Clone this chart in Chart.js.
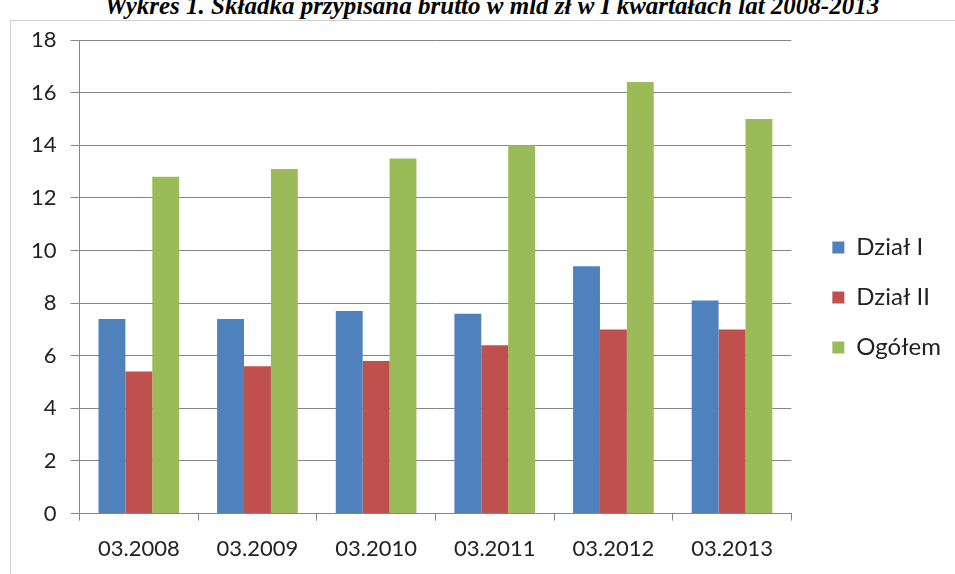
<!DOCTYPE html>
<html lang="pl">
<head>
    <meta charset="UTF-8">
    <title>Wykres 1</title>
    <script src="https://cdn.jsdelivr.net/npm/chart.js"></script>
    <style>
        body {
            margin: 0;
            background-color: #fff;
            width: 955px;
            height: 574px;
            overflow: hidden;
            position: relative;
        }

        .title {
            position: absolute;
            left: 0;
            width: 984px;
            top: -8px;
            text-align: center;
            font-family: "Liberation Serif", "DejaVu Serif", serif;
            font-weight: bold;
            font-style: italic;
            font-size: 25px;
            color: #000;
            white-space: nowrap;
        }

        .chart-box {
            position: absolute;
            left: 10px;
            top: 20px;
            width: 960px;
            height: 560px;
            border: 1px solid #d0d0d0;
            background: #fff;
        }

        .chart-box canvas {
            position: absolute;
            left: 0;
            top: 2px;
        }
    </style>
</head>
<body>
    <div class="title">Wykres 1. Składka przypisana brutto w mld zł w I kwartałach lat 2008-2013</div>
    <div class="chart-box">
        <canvas id="myChart" width="944" height="554"></canvas>
    </div>

    <script>
        const categories = ['03.2008', '03.2009', '03.2010', '03.2011', '03.2012', '03.2013'];
        const dzialI = [7.4, 7.4, 7.7, 7.6, 9.4, 8.1];
        const dzialII = [5.4, 5.6, 5.8, 6.4, 7.0, 7.0];
        const ogolem = [12.8, 13.1, 13.5, 14.0, 16.4, 15.0];
        const yTicks = [0, 2, 4, 6, 8, 10, 12, 14, 16, 18];

        const tickFont = { family: 'Lato, "Open Sans", sans-serif', size: 22 };

        // nudge the legend right and up, like in the original
        const legendNudge = {
            id: 'legendNudge',
            afterLayout(chart) {
                const lg = chart.legend;
                lg.left += 15;
                lg.right += 15;
                lg.top -= 11;
                lg.bottom -= 11;
            }
        };

        const ctx = document.getElementById('myChart').getContext('2d');
        const myChart = new Chart(ctx, {
            type: 'bar',
            data: {
                labels: categories,
                datasets: [
                    { label: 'Dział I', data: dzialI, backgroundColor: '#4F81BD' },
                    { label: 'Dział II', data: dzialII, backgroundColor: '#C0504D' },
                    { label: 'Ogółem', data: ogolem, backgroundColor: '#9BBB59' }
                ]
            },
            options: {
                responsive: false,
                animation: false,
                datasets: {
                    bar: { barPercentage: 1, categoryPercentage: 0.68 }
                },
                layout: {
                    padding: { left: 6, top: 17, right: 19, bottom: 0 }
                },
                plugins: {
                    title: { display: false },
                    tooltip: { enabled: false },
                    legend: {
                        position: 'right',
                        labels: {
                            boxWidth: 12,
                            boxHeight: 12,
                            padding: 26,
                            color: '#222',
                            font: { family: 'Lato, "Open Sans", sans-serif', size: 24 }
                        }
                    }
                },
                scales: {
                    x: {
                        grid: {
                            drawOnChartArea: false,
                            drawTicks: true,
                            tickLength: 7,
                            color: '#868686'
                        },
                        border: { color: '#868686' },
                        ticks: { color: '#222', font: tickFont, padding: 15 }
                    },
                    y: {
                        min: 0,
                        max: 18,
                        afterBuildTicks: (axis) => {
                            axis.ticks = yTicks.map(v => ({ value: v }));
                        },
                        afterFit: (axis) => {
                            axis.paddingTop = 0;
                        },
                        grid: {
                            color: '#868686',
                            tickLength: 9
                        },
                        border: { color: '#868686' },
                        ticks: { color: '#222', font: tickFont, padding: 14 }
                    }
                }
            },
            plugins: [legendNudge]
        });
    </script>
</body>
</html>
